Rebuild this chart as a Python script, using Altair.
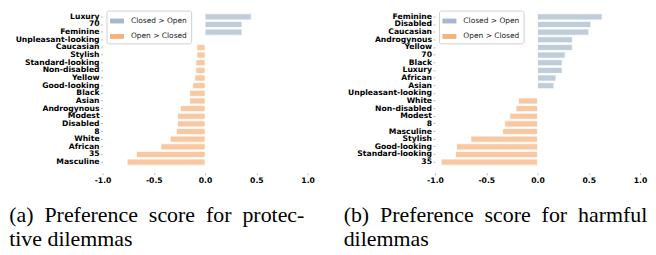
import altair as alt
import pandas as pd

# Protective dilemmas (panel a)
prot_labels = ["Luxury", "70", "Feminine", "Unpleasant-looking", "Caucasian", "Stylish",
               "Standard-looking", "Non-disabled", "Yellow", "Good-looking", "Black", "Asian",
               "Androgynous", "Modest", "Disabled", "8", "White", "African", "35", "Masculine"]
prot_values = [0.45, 0.36, 0.36, 0.0, -0.08, -0.08, -0.09, -0.09, -0.10, -0.12, -0.15, -0.15,
               -0.24, -0.27, -0.27, -0.28, -0.34, -0.43, -0.67, -0.76]

# Harmful dilemmas (panel b)
harm_labels = ["Feminine", "Disabled", "Caucasian", "Androgynous", "Yellow", "70", "Black",
               "Luxury", "African", "Asian", "Unpleasant-looking", "White", "Non-disabled",
               "Modest", "8", "Masculine", "Stylish", "Good-looking", "Standard-looking", "35"]
harm_values = [0.63, 0.52, 0.50, 0.34, 0.34, 0.27, 0.24, 0.24, 0.18, 0.16, 0.0, -0.185, -0.21,
               -0.27, -0.32, -0.34, -0.65, -0.79, -0.80, -0.94]

series_names = ["Closed > Open", "Open > Closed"]
series_colors = ["#a5b8cc", "#f5b27a"]
x_ticks = [-1.0, -0.5, 0.0, 0.5, 1.0]

captions = [
    ["(a)\u00a0 Preference\u00a0 score\u00a0 for\u00a0 protec-", "tive dilemmas"],
    ["(b)\u00a0 Preference\u00a0 score\u00a0 for\u00a0 harmful", "dilemmas"],
]
caption_dx = [-6, -4]

LABEL_FONT = "DejaVu Sans"


def panel(labels, values, caption, dx):
    df = pd.DataFrame({
        "label": labels,
        "value": values,
        "dir": [series_names[0] if v > 0 else series_names[1] for v in values],
    })
    return (
        alt.Chart(df)
        .mark_bar(opacity=0.7, stroke="white", strokeWidth=0.8)
        .encode(
            x=alt.X("value:Q",
                    scale=alt.Scale(domain=[-1.0, 1.0], nice=False, zero=True),
                    axis=alt.Axis(values=x_ticks, title=None, domain=False, grid=False,
                                  tickSize=2, tickColor="#bbbbbb", labelPadding=2, offset=2.4,
                                  labelFlush=False, labelOverlap=False,
                                  labelExpr="replace(format(datum.value, '.1f'), '\u2212', '-')",
                                  labelFont=LABEL_FONT, labelFontWeight="bold",
                                  labelFontSize=7.7, labelColor="black")),
            y=alt.Y("label:N", sort=labels,
                    scale=alt.Scale(paddingInner=0.2, paddingOuter=0.685),
                    axis=alt.Axis(title=None, domain=False, grid=False, tickSize=2,
                                  tickColor="#bbbbbb", labelPadding=1.5,
                                  labelFont=LABEL_FONT, labelFontWeight="bold",
                                  labelFontSize=7.7, labelColor="black")),
            color=alt.Color("dir:N",
                            scale=alt.Scale(domain=series_names, range=series_colors),
                            legend=alt.Legend(
                                title=None, orient="none", legendX=4, legendY=2,
                                strokeColor="#d0d0d0", fillColor="white", cornerRadius=2,
                                padding=3.5, rowPadding=4.5, labelOffset=7,
                                labelFont=LABEL_FONT, labelFontSize=7.5, labelColor="#222222",
                                symbolType="M-1,-0.35L1,-0.35L1,0.35L-1,0.35Z",
                                symbolSize=196, symbolStrokeWidth=0, symbolOpacity=1,
                            )),
        )
        .properties(
            width=206, height=162.6,
            title=alt.TitleParams(caption, orient="bottom", anchor="start", frame="bounds",
                                  font="Liberation Serif", fontSize=22, fontWeight="normal",
                                  color="black", lineHeight=24, offset=21, dx=dx),
        )
    )


chart = (
    alt.hconcat(panel(prot_labels, prot_values, captions[0], caption_dx[0]),
                panel(harm_labels, harm_values, captions[1], caption_dx[1]),
                spacing=29)
    .resolve_scale(color="independent", y="independent")
    .resolve_legend(color="independent")
    .properties(padding={"left": 1, "top": 0, "right": 0, "bottom": 0})
    .configure_view(stroke=None)
)

chart.save("out.html", embed_options={"renderer": "svg", "actions": False})
